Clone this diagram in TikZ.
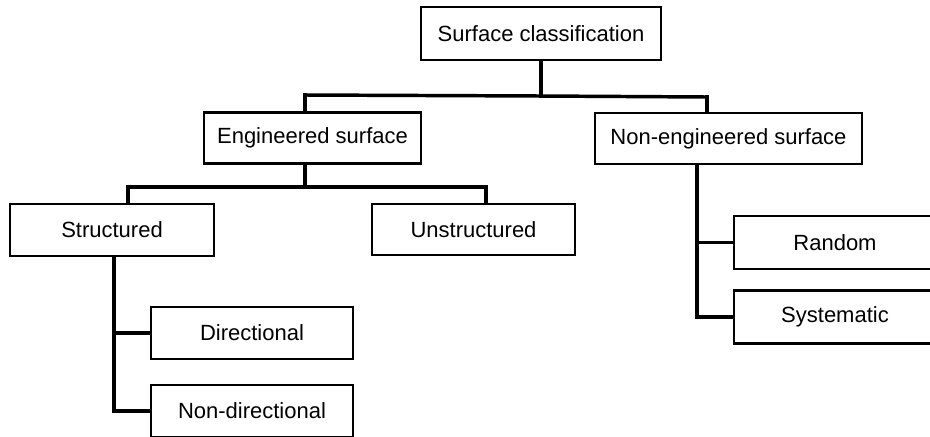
\documentclass[tikz,border=0pt]{standalone}
\usepackage{fontspec}
\setmainfont{Liberation Sans}
\begin{document}
\begin{tikzpicture}[x=0.75pt,y=-0.75pt,
  box/.style={draw=black,line width=2.1pt,fill=white,inner sep=0pt,
    font=\fontsize{16.5}{20}\selectfont},
  link/.style={draw=black,line width=2.6pt,line cap=rect}]
\useasboundingbox (0,0) rectangle (930,436);
% boxes
\node[box,minimum width=240*0.75pt,minimum height=53*0.75pt] (root) at (541,33.5) {Surface classification};
\node[box,minimum width=217*0.75pt,minimum height=51*0.75pt] (eng) at (312.5,138) {Engineered surface};
\node[box,minimum width=267*0.75pt,minimum height=51*0.75pt] (noneng) at (728.5,138.5) {Non-engineered surface};
\node[box,minimum width=204*0.75pt,minimum height=52*0.75pt] (struct) at (112,230) {Structured};
\node[box,minimum width=203*0.75pt,minimum height=51*0.75pt] (unstruct) at (473.5,229.5) {Unstructured};
\node[box,minimum width=202*0.75pt,minimum height=52*0.75pt] (dir) at (252,333) {Directional};
\node[box,minimum width=202*0.75pt,minimum height=52*0.75pt] (nondir) at (252,411) {Non-directional};
\node[box,minimum width=202*0.75pt,minimum height=53*0.75pt] (random) at (835,242.5) {Random};
\node[box,minimum width=202*0.75pt,minimum height=53*0.75pt] (system) at (835,317) {Systematic};
% first level
\coordinate (j1) at (541,96);
\coordinate (jl) at (305,95);
\coordinate (jr) at (707,97);
\draw[link] (root.south) -- (j1);
\draw[link] (jl) -- (j1) -- (jr);
\draw[link] (jl) -- (jl |- eng.north);
\draw[link] (jr) -- (jr |- noneng.north);
% engineered branch
\coordinate (e1) at (305,187);
\coordinate (el) at (128,187);
\coordinate (er) at (486,187);
\draw[link] (e1 |- eng.south) -- (e1);
\draw[link] (el) -- (er);
\draw[link] (el) -- (el |- struct.north);
\draw[link] (er) -- (er |- unstruct.north);
% structured branch
\coordinate (s0) at (114,0);
\draw[link] (s0 |- struct.south) -- (s0 |- nondir.west) -- (nondir.west);
\draw[link] (s0 |- dir.west) -- (dir.west);
% non-engineered branch
\coordinate (n0) at (697,0);
\draw[link] (n0 |- noneng.south) -- (n0 |- system.west) -- (system.west);
\draw[link] (n0 |- random.west) -- (random.west);
\end{tikzpicture}
\end{document}
